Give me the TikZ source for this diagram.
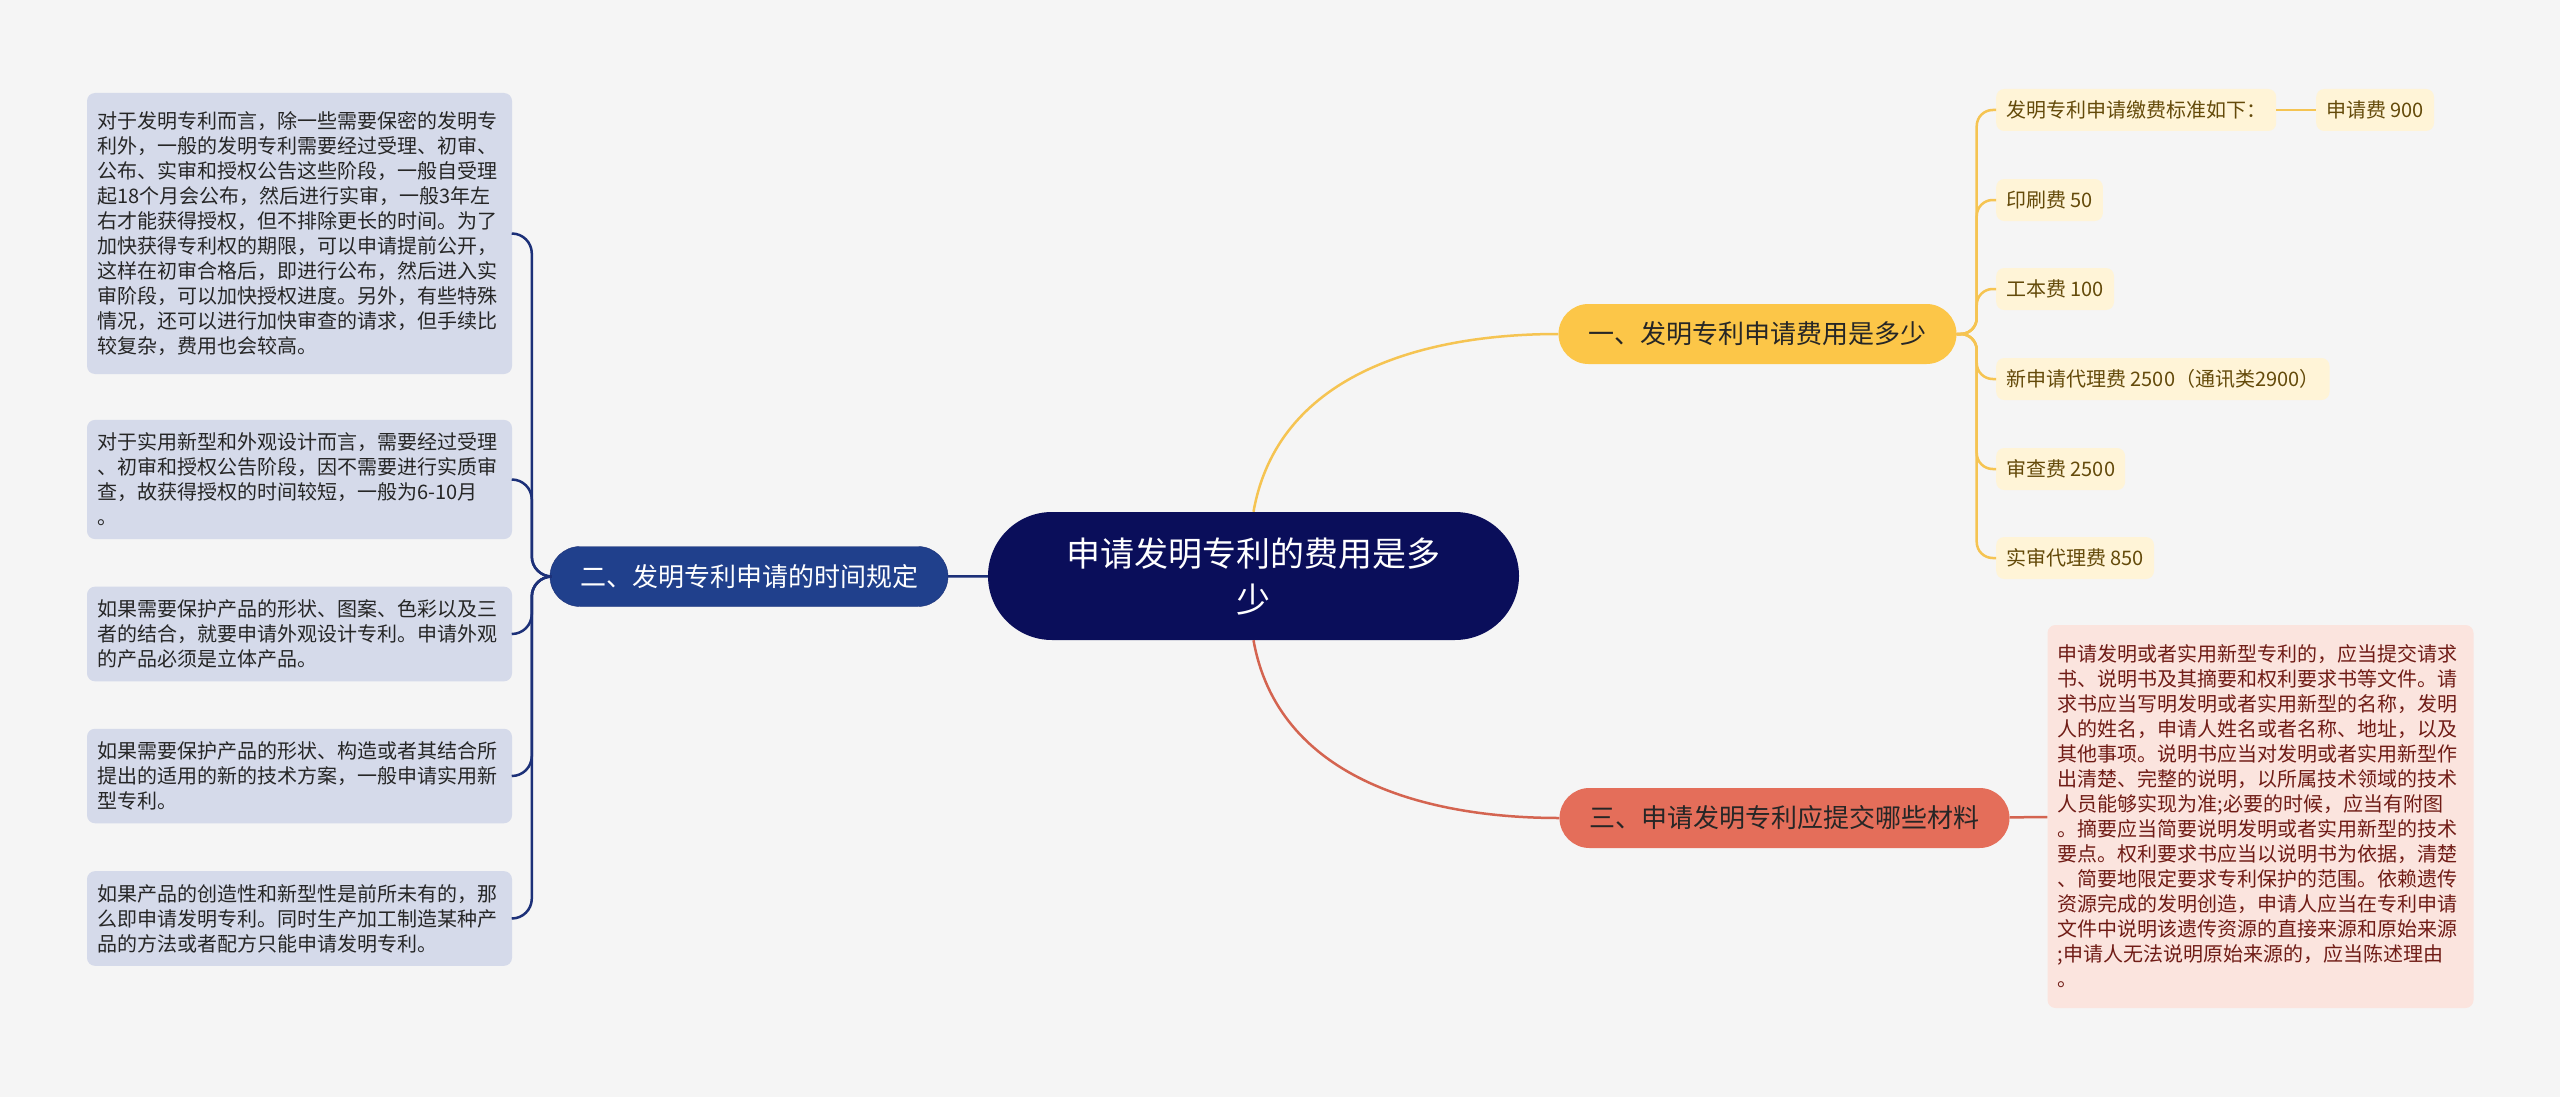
\documentclass[tikz,border=0pt]{standalone}
\usepackage{fontspec}
\setmainfont{Noto Sans CJK SC}
\definecolor{bgc}{RGB}{245,245,245}
\definecolor{rootc}{RGB}{10,14,90}
\definecolor{bluec}{RGB}{32,64,140}
\definecolor{bluel}{RGB}{28,48,120}
\definecolor{yelc}{RGB}{252,198,72}
\definecolor{yell}{RGB}{245,196,82}
\definecolor{redc}{RGB}{228,110,90}
\definecolor{redl}{RGB}{212,100,80}
\definecolor{greyb}{RGB}{213,218,234}
\definecolor{leafy}{RGB}{255,244,215}
\definecolor{leaft}{RGB}{100,74,10}
\definecolor{pinkb}{RGB}{251,228,222}
\definecolor{pinkt}{RGB}{112,28,22}

\begin{document}
\begin{tikzpicture}[x=1pt,y=1pt]

\tikzstyle{root} = [rectangle, rounded corners=64pt, fill=rootc, text=white, minimum width=531pt, minimum height=128pt, align=center, font=\fontsize{34}{46}\selectfont];%
\tikzstyle{branch} = [rectangle, rounded corners=30pt, minimum height=60pt, inner xsep=30pt, inner ysep=0pt, font=\fontsize{26}{26}\selectfont];
\tikzstyle{leaf} = [rectangle, rounded corners=8pt, fill=leafy, text=leaft, minimum height=42pt, inner xsep=10pt, inner ysep=0pt, anchor=west, font=\fontsize{20}{20}\selectfont];
\tikzstyle{note} = [rectangle, rounded corners=8pt, fill=greyb, text=black!85, text width=405pt, inner xsep=10pt, inner ysep=13pt, align=left, font=\fontsize{20}{25}\selectfont];

\fill[bgc] (0,0) rectangle (2560,-1097);
\useasboundingbox (0,0) rectangle (2560,-1097);

\node[root] at (1253.5,-576) (0) {申请发明专利的费用是多\\少};

\node[branch, fill=yelc, text=black!85] at (1757.5,-334) (1) {一、发明专利申请费用是多少};
\node[branch, fill=bluec, draw=bluel, text=white] at (749,-576.5) (2) {二、发明专利申请的时间规定};
\node[branch, fill=redc, text=black!85] at (1784.5,-818) (3) {三、申请发明专利应提交哪些材料};

% branch 1: fees
\node[leaf] at (1996,-110) (d1) {发明专利申请缴费标准如下：};
\node[leaf] at (2316,-110) (d1a) {申请费 900};
\node[leaf] at (1996,-200) (d2) {印刷费 50};
\node[leaf] at (1996,-289) (d3) {工本费 100};
\node[leaf] at (1996,-379) (d4) {新申请代理费 2500（通讯类2900）};
\node[leaf] at (1996,-469) (d5) {审查费 2500};
\node[leaf] at (1996,-558) (d6) {实审代理费 850};

% branch 2: time
\node[note, minimum height=281pt] at (299.5,-233.5) (e1) {对于发明专利而言，除一些需要保密的发明专\\利外，一般的发明专利需要经过受理、初审、\\公布、实审和授权公告这些阶段，一般自受理\\起18个月会公布，然后进行实审，一般3年左\\右才能获得授权，但不排除更长的时间。为了\\加快获得专利权的期限，可以申请提前公开，\\这样在初审合格后，即进行公布，然后进入实\\审阶段，可以加快授权进度。另外，有些特殊\\情况，还可以进行加快审查的请求，但手续比\\较复杂，费用也会较高。};
\node[note] at (299.5,-479.5) (e2) {对于实用新型和外观设计而言，需要经过受理\\、初审和授权公告阶段，因不需要进行实质审\\查，故获得授权的时间较短，一般为6-10月\\。};
\node[note] at (299.5,-634) (e3) {如果需要保护产品的形状、图案、色彩以及三\\者的结合，就要申请外观设计专利。申请外观\\的产品必须是立体产品。};
\node[note] at (299.5,-776) (e4) {如果需要保护产品的形状、构造或者其结合所\\提出的适用的新的技术方案，一般申请实用新\\型专利。};
\node[note] at (299.5,-918.5) (e5) {如果产品的创造性和新型性是前所未有的，那\\么即申请发明专利。同时生产加工制造某种产\\品的方法或者配方只能申请发明专利。};

% branch 3: documents
\node[note, fill=pinkb, text=pinkt, text width=406pt, inner ysep=9pt, minimum height=383pt, font=\fontsize{20}{25}\selectfont] at (2260.5,-816.5) (f1) {申请发明或者实用新型专利的，应当提交请求\\书、说明书及其摘要和权利要求书等文件。请\\求书应当写明发明或者实用新型的名称，发明\\人的姓名，申请人姓名或者名称、地址，以及\\其他事项。说明书应当对发明或者实用新型作\\出清楚、完整的说明，以所属技术领域的技术\\人员能够实现为准;必要的时候，应当有附图\\。摘要应当简要说明发明或者实用新型的技术\\要点。权利要求书应当以说明书为依据，清楚\\、简要地限定要求专利保护的范围。依赖遗传\\资源完成的发明创造，申请人应当在专利申请\\文件中说明该遗传资源的直接来源和原始来源\\;申请人无法说明原始来源的，应当陈述理由\\。};

% connectors
\draw[yell, line width=2.5pt] (0.north) to[out=80,in=180] (1.west);
\draw[redl, line width=2.5pt] (0.south) to[out=-80,in=180] (3.west);
\path (0) edge[-, bluel, line width=2.5pt] (2);
\path (3) edge[-, redl, line width=2.5pt] (f1);
\path (d1) edge[-, yell, line width=2.5pt] (d1a);

\foreach \n in {d1,d2,d3,d4,d5,d6}
  \draw[yell, line width=2.5pt, rounded corners=16pt] (1.east) -- ++(20,0) |- (\n.west);

\foreach \n in {e1,e2,e3,e4,e5}
  \draw[bluel, line width=2.5pt, rounded corners=20pt] (2.west) -- ++(-18,0) |- (\n.east);

\end{tikzpicture}
\end{document}
